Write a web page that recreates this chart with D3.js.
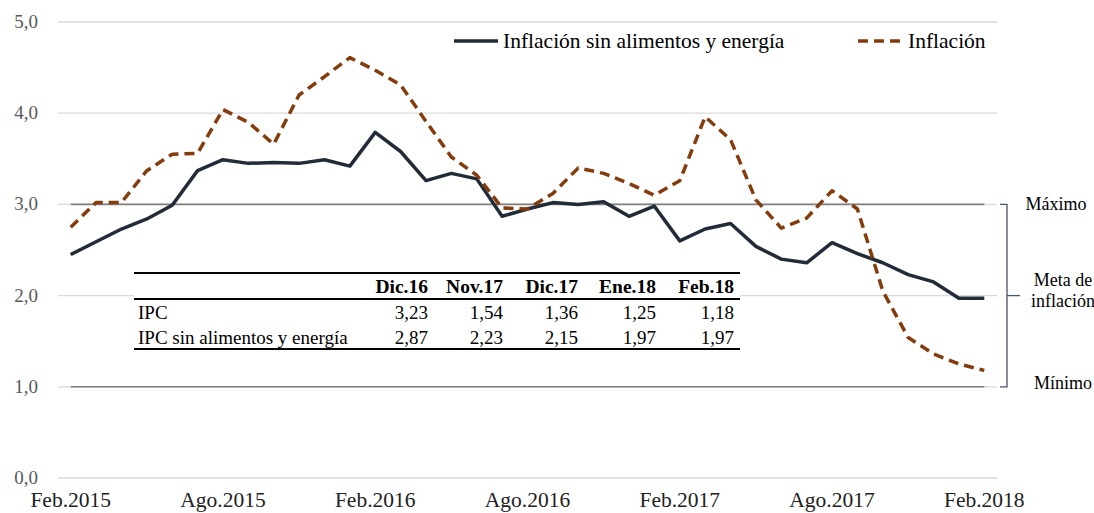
<!DOCTYPE html>
<html>
<head>
<meta charset="utf-8">
<script src="https://cdn.jsdelivr.net/npm/d3@7"></script>
<style>
  html, body { margin: 0; padding: 0; background: #fff; }
  #root { width: 1094px; height: 513px; }
  text { font-family: 'Liberation Serif', serif; }
</style>
</head>
<body>
<div id="root"></div>
<script>
// monthly, Feb.2015 .. Feb.2018
const meses = ['Ene', 'Feb', 'Mar', 'Abr', 'May', 'Jun', 'Jul', 'Ago', 'Sep', 'Oct', 'Nov', 'Dic'];
const fechas = [];
for (let i = 0; i < 37; i++) {
  const m = (1 + i) % 12;
  const y = 2015 + Math.floor((1 + i) / 12);
  fechas.push(meses[m] + '.' + y);
}

const inflacionSAE = [
  2.45, 2.59, 2.73, 2.84, 2.99, 3.37, 3.49, 3.45, 3.46, 3.45, 3.49, 3.42,
  3.79, 3.58, 3.26, 3.34, 3.28, 2.87, 2.95, 3.02, 3.00, 3.03, 2.87, 2.98,
  2.60, 2.73, 2.79, 2.54, 2.40, 2.36, 2.58, 2.46, 2.36, 2.23, 2.15, 1.97,
  1.97
];

const inflacion = [
  2.75, 3.02, 3.02, 3.37, 3.55, 3.56, 4.04, 3.90, 3.66, 4.20, 4.40, 4.61,
  4.47, 4.31, 3.91, 3.52, 3.32, 2.96, 2.95, 3.12, 3.40, 3.34, 3.23, 3.10,
  3.26, 3.96, 3.71, 3.05, 2.74, 2.85, 3.15, 2.95, 2.05, 1.54, 1.36, 1.25,
  1.18
];

const rangoMeta = [1, 3];
const yTicks = [0, 1, 2, 3, 4, 5];
const xTickLabels = ['Feb.2015', 'Ago.2015', 'Feb.2016', 'Ago.2016', 'Feb.2017', 'Ago.2017', 'Feb.2018'];

const tablaCols = ['Dic.16', 'Nov.17', 'Dic.17', 'Ene.18', 'Feb.18'];
const tablaFilas = ['IPC', 'IPC sin alimentos y energía'];
const tablaIPC = ['3,23', '1,54', '1,36', '1,25', '1,18'];
const tablaSAE = ['2,87', '2,23', '2,15', '1,97', '1,97'];

const colorSAE = '#222b38';
const colorInf = '#843c0c';

const container = d3.select('#root');
const width = 1094, height = 513;
const svg = container.append('svg')
  .attr('width', width)
  .attr('height', height);

const x = d3.scalePoint()
  .domain(fechas)
  .range([58, 997])
  .padding(0.5);

const y = d3.scaleLinear()
  .domain([0, 5])
  .range([478, 22]);

// gridlines
svg.append('g')
  .selectAll('line')
  .data(yTicks)
  .enter()
  .append('line')
    .attr('x1', 58)
    .attr('x2', 997)
    .attr('y1', d => y(d))
    .attr('y2', d => y(d))
    .attr('stroke', '#d9d9d9')
    .attr('stroke-width', 1.3);

// y tick labels
svg.append('g')
  .selectAll('text')
  .data(yTicks)
  .enter()
  .append('text')
    .attr('x', 38)
    .attr('y', d => y(d) + 6)
    .attr('text-anchor', 'end')
    .attr('fill', '#595959')
    .style('font-size', '19px')
    .text(d => d3.format('.1f')(d).replace('.', ','));

// x tick labels
svg.append('g')
  .selectAll('text')
  .data(xTickLabels)
  .enter()
  .append('text')
    .attr('x', d => x(d))
    .attr('y', 507)
    .attr('text-anchor', 'middle')
    .attr('fill', '#222')
    .style('font-size', '21.5px')
    .text(d => d);

// target range limits (1 and 3)
svg.append('g')
  .selectAll('line')
  .data(rangoMeta)
  .enter()
  .append('line')
    .attr('x1', x(fechas[0]))
    .attr('x2', x(fechas[fechas.length - 1]))
    .attr('y1', d => y(d))
    .attr('y2', d => y(d))
    .attr('stroke', '#7f7f7f')
    .attr('stroke-width', 1.6);

// table
const tbl = svg.append('g');
const tx0 = 134, tx1 = 740;
const colRight = [428, 503, 578, 656, 734];
tbl.append('rect')
  .attr('x', tx0).attr('y', 272)
  .attr('width', tx1 - tx0).attr('height', 78)
  .attr('fill', '#fff');
[273, 299, 349].forEach(yy => {
  tbl.append('line')
    .attr('x1', tx0).attr('x2', tx1)
    .attr('y1', yy).attr('y2', yy)
    .attr('stroke', '#000')
    .attr('stroke-width', 2);
});
tbl.selectAll('.hdr')
  .data(tablaCols)
  .enter()
  .append('text')
    .attr('class', 'hdr')
    .attr('x', (d, i) => colRight[i])
    .attr('y', 293)
    .attr('text-anchor', 'end')
    .style('font-size', '19.5px')
    .style('font-weight', 'bold')
    .text(d => d);
const filas = [tablaIPC, tablaSAE];
filas.forEach((vals, r) => {
  const yy = 319 + r * 25;
  tbl.append('text')
    .attr('x', 138)
    .attr('y', yy)
    .style('font-size', '19px')
    .text(tablaFilas[r]);
  tbl.selectAll('.v' + r)
    .data(vals)
    .enter()
    .append('text')
      .attr('x', (d, i) => colRight[i])
      .attr('y', yy)
      .attr('text-anchor', 'end')
      .style('font-size', '19px')
      .text(d => d);
});

// series
const line = d3.line()
  .x((d, i) => x(fechas[i]))
  .y(d => y(d));

svg.append('path')
  .datum(inflacionSAE)
  .attr('d', line)
  .attr('fill', 'none')
  .attr('stroke', colorSAE)
  .attr('stroke-width', 3.5)
  .attr('stroke-linejoin', 'round');

svg.append('path')
  .datum(inflacion)
  .attr('d', line)
  .attr('fill', 'none')
  .attr('stroke', colorInf)
  .attr('stroke-width', 3.5)
  .attr('stroke-dasharray', '10,6')
  .attr('stroke-linejoin', 'round');

// legend
const leg = svg.append('g');
leg.append('line')
  .attr('x1', 454).attr('x2', 498)
  .attr('y1', 41).attr('y2', 41)
  .attr('stroke', colorSAE).attr('stroke-width', 3.5);
leg.append('text')
  .attr('x', 503).attr('y', 48)
  .style('font-size', '21.5px')
  .text('Inflación sin alimentos y energía');
leg.append('line')
  .attr('x1', 858).attr('x2', 900)
  .attr('y1', 41).attr('y2', 41)
  .attr('stroke', colorInf).attr('stroke-width', 3.5)
  .attr('stroke-dasharray', '10,6');
leg.append('text')
  .attr('x', 908).attr('y', 48)
  .style('font-size', '21.5px')
  .text('Inflación');

// bracket for target range
const br = svg.append('g');
br.append('path')
  .attr('d', d3.line()([[1000, y(3)], [1007, y(3)], [1007, y(1)], [1000, y(1)]]))
  .attr('fill', 'none')
  .attr('stroke', '#44546a')
  .attr('stroke-width', 1.3);
br.append('line')
  .attr('x1', 1007).attr('x2', 1020)
  .attr('y1', y(2)).attr('y2', y(2))
  .attr('stroke', '#44546a')
  .attr('stroke-width', 1.3);

const anot = [
  { t: 'Máximo', xx: 1056, yy: y(3) + 6 },
  { t: 'Meta de', xx: 1063, yy: y(2) - 10 },
  { t: 'inflación', xx: 1063, yy: y(2) + 11 },
  { t: 'Mínimo', xx: 1063, yy: y(1) + 2 },
];
br.selectAll('text')
  .data(anot)
  .enter()
  .append('text')
    .attr('x', d => d.xx)
    .attr('y', d => d.yy)
    .attr('text-anchor', 'middle')
    .style('font-size', '18px')
    .text(d => d.t);
</script>
</body>
</html>
